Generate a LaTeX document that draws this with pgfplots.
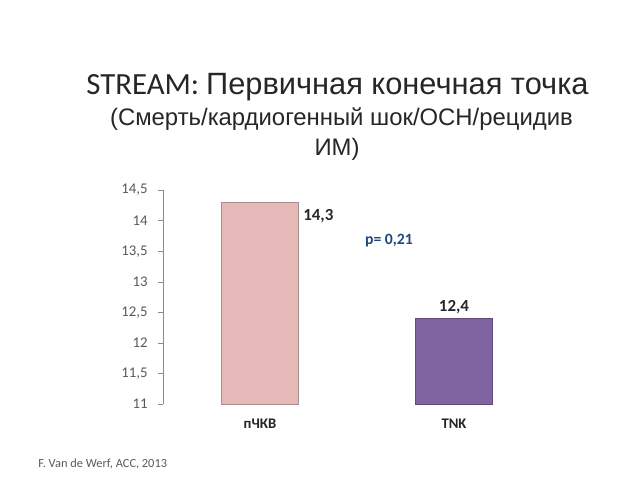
\documentclass[border=0pt]{standalone}
\usepackage{fontspec}
\setmainfont{Carlito}
\newfontfamily\arial{Liberation Sans}
\usepackage{pgfplots}
\pgfplotsset{compat=1.18}
\definecolor{barpink}{HTML}{E6B9B8}
\definecolor{barpurple}{HTML}{8064A2}
\definecolor{axgray}{HTML}{8C8C8C}
\definecolor{txtgray}{HTML}{595959}
\definecolor{pblue}{HTML}{1F497D}

\begin{document}
\begin{tikzpicture}
% 1 px = 0.75pt, origin at bottom left of a 640x480 px canvas
\path[use as bounding box] (0pt,0pt) rectangle (480pt,360pt);

% title block
\node[anchor=base,inner sep=0,text=black!85] at (253.1pt,289pt)
  {\fontsize{23.1}{26}\selectfont STREAM: {\arial Первичная конечная точка}};
\node[anchor=base,inner sep=0,text=black!85] at (256.1pt,266pt)
  {\fontsize{17.9}{20}\selectfont\arial (Смерть/кардиогенный шок/ОСН/рецидив};
\node[anchor=base,inner sep=0,text=black!85] at (252.8pt,243.5pt)
  {\fontsize{17.9}{20}\selectfont\arial ИМ)};

\begin{axis}[
    at={(122.25pt,57pt)}, anchor=south west,
    scale only axis,
    width=291pt, height=160.5pt,
    xmin=-0.5, xmax=1.5,
    ymin=11, ymax=14.5,
    ytick={11,11.5,...,14.5},
    xtick={0,1},
    xticklabels={пЧКВ, TNK},
    extra x ticks={0.5},
    extra x tick labels={},
    extra x tick style={major tick length=5pt, tick align=center, major tick style={axgray!60}},
    axis x line=bottom, axis y line=left,
    axis line style={-, axgray},
    x axis line style={draw=none},
    major x tick style={draw=none},
    major y tick style={axgray},
    major tick length=4pt,
    tick align=outside,
    /pgf/number format/use comma,
    /pgf/number format/assume math mode=true,
    y tick label style={font=\fontsize{11.1}{13}\selectfont, text=txtgray, xshift=-4pt},
    x tick label style={font=\fontsize{11}{13}\selectfont\bfseries, text=black!85, yshift=-4pt},
    ybar, bar width=57.75pt, bar shift=0pt,
    clip=false,
]
\addplot[fill=barpink, draw={rgb,255:red,165;green,145;blue,145}, line width=0.4pt,
    nodes near coords,
    nodes near coords style={font=\fontsize{12.7}{14}\selectfont\bfseries, text=black!85,
        anchor=west, inner sep=0pt, xshift=32.25pt, yshift=-10.5pt}]
  coordinates {(0,14.3)};
\addplot[fill=barpurple, draw=barpurple!75!black, line width=0.3pt,
    nodes near coords,
    nodes near coords style={font=\fontsize{12.7}{14}\selectfont\bfseries, text=black!85,
        anchor=center, inner sep=0pt, yshift=8.5pt}]
  coordinates {(1,12.4)};
\end{axis}

\node[anchor=center,inner sep=0,text=pblue] at (291.75pt,179.25pt)
  {\fontsize{11.8}{14}\selectfont\bfseries p= 0,21};

\node[anchor=base west,inner sep=0,text=txtgray] at (28.5pt,9.75pt)
  {\fontsize{9.3}{11}\selectfont F. Van de Werf, ACC, 2013};
\end{tikzpicture}
\end{document}
